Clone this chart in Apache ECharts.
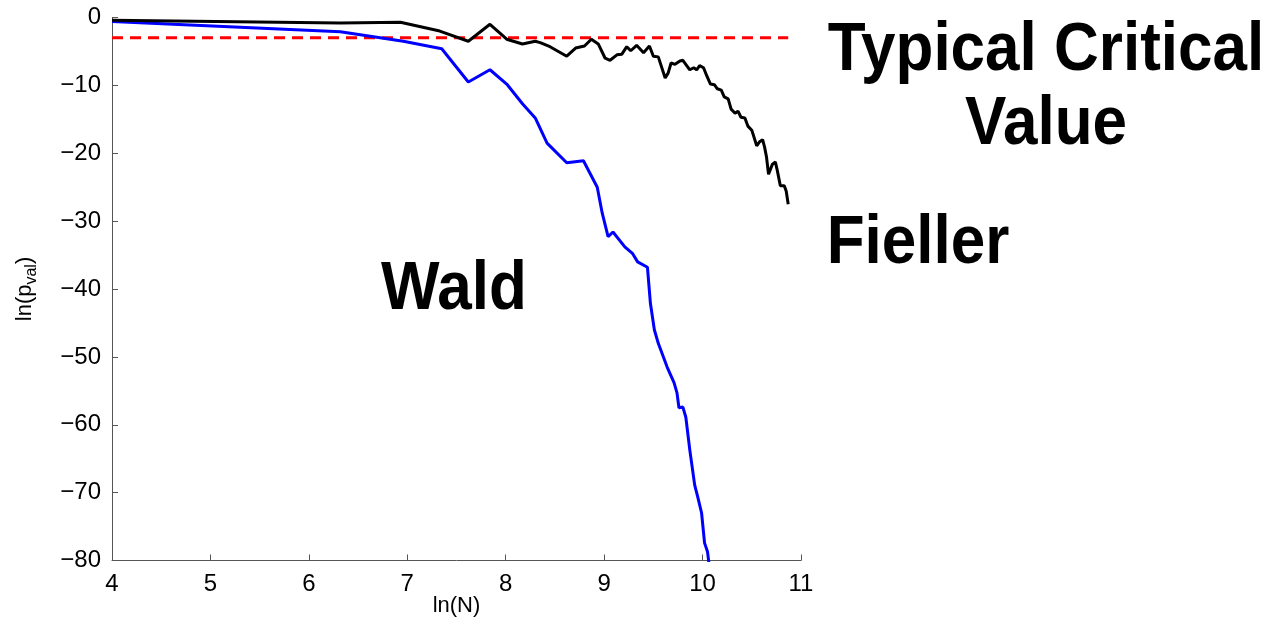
<!DOCTYPE html>
<html>
<head>
<meta charset="utf-8">
<script src="https://cdn.jsdelivr.net/npm/echarts@6/dist/echarts.min.js"></script>
<style>html,body{margin:0;padding:0;background:#fff}#c{width:1276px;height:624px}</style>
</head>
<body>
<div id="c"></div>
<script>
// ---- data ----
const xTicks = [4, 5, 6, 7, 8, 9, 10, 11];
const yTicks = [0, -10, -20, -30, -40, -50, -60, -70, -80];
const criticalValue = -3.0;
const criticalRange = [4, 10.87];

const fiellerX = [4, 6.32, 6.93, 7.33, 7.62, 7.84, 8.01, 8.17, 8.3, 8.35, 8.45, 8.62, 8.71, 8.8, 8.87, 8.94, 9.01, 9.06, 9.13, 9.18, 9.23, 9.27, 9.33, 9.4, 9.46, 9.5, 9.55, 9.62, 9.65, 9.68, 9.72, 9.77, 9.8, 9.87, 9.91, 9.94, 9.97, 10.01, 10.04, 10.08, 10.12, 10.15, 10.19, 10.22, 10.26, 10.29, 10.33, 10.36, 10.39, 10.43, 10.46, 10.5, 10.52, 10.55, 10.58, 10.61, 10.63, 10.65, 10.67, 10.71, 10.74, 10.76, 10.79, 10.83, 10.85, 10.87];
const fiellerY = [-0.4, -0.8, -0.7, -2.0, -3.5, -1.0, -3.2, -3.9, -3.5, -3.7, -4.3, -5.7, -4.5, -4.2, -3.2, -3.9, -6.0, -6.3, -5.5, -5.4, -4.3, -4.9, -4.1, -5.2, -4.2, -5.7, -5.8, -8.9, -8.2, -6.7, -6.9, -6.4, -6.3, -7.7, -7.4, -7.7, -7.1, -7.4, -8.5, -9.8, -9.9, -10.5, -10.7, -11.7, -12.0, -13.5, -14.1, -13.8, -14.7, -14.8, -16.0, -16.6, -16.7, -18.9, -18.3, -18.0, -19.1, -20.6, -23.1, -21.6, -21.3, -22.6, -24.8, -24.8, -25.6, -27.5];

const waldX = [4, 6.32, 6.96, 7.35, 7.62, 7.84, 8.01, 8.17, 8.3, 8.42, 8.62, 8.79, 8.84, 8.93, 8.98, 9.04, 9.09, 9.21, 9.29, 9.34, 9.44, 9.47, 9.51, 9.55, 9.64, 9.71, 9.74, 9.76, 9.8, 9.83, 9.87, 9.92, 9.95, 9.99, 10.02, 10.05, 10.07];
const waldY = [-0.6, -2.1, -3.5, -4.6, -9.5, -7.7, -9.8, -12.7, -14.8, -18.5, -21.4, -21.1, -22.5, -25.0, -28.8, -32.3, -31.6, -33.8, -34.8, -36.0, -36.8, -42.1, -46.0, -48.0, -51.5, -53.8, -55.3, -57.5, -57.4, -58.9, -63.7, -68.9, -70.6, -73.0, -77.4, -78.7, -81.0];

const annotations = [
  {text: 'Typical Critical', x: 1046, y: 51},
  {text: 'Value', x: 1046, y: 125},
  {text: 'Fieller', x: 918, y: 244},
  {text: 'Wald', x: 454, y: 290}
];

// ---- chart ----
const zip = (xs, ys) => xs.map((x, i) => [x, ys[i]]);
const FONT = '"Liberation Sans", Arial, Helvetica, sans-serif';
const axisColor = '#555';

const chart = echarts.init(document.getElementById('c'), null, {renderer: 'canvas'});
chart.setOption({
  animation: false,
  backgroundColor: '#fff',
  grid: {left: 112, right: 475, top: 17.5, bottom: 63.5, containLabel: false, outerBoundsMode: 'none'},
  xAxis: {
    type: 'value', min: xTicks[0], max: xTicks[xTicks.length - 1], interval: 1,
    name: 'ln(N)', nameLocation: 'middle', nameGap: 34, nameMoveOverlap: false,
    nameTextStyle: {fontFamily: FONT, fontSize: 22, color: '#000'},
    axisLine: {show: true, onZero: false, lineStyle: {color: axisColor, width: 1}},
    axisTick: {show: true, inside: true, length: 6, lineStyle: {color: axisColor}},
    axisLabel: {fontFamily: FONT, fontSize: 24, color: '#000', margin: 12},
    splitLine: {show: false}
  },
  yAxis: {
    type: 'value', min: yTicks[yTicks.length - 1], max: yTicks[0], interval: 10,
    name: '{a|ln(p}{b|val}{a|)}', nameLocation: 'middle', nameGap: 72, nameRotate: 90, nameMoveOverlap: false,
    nameTextStyle: {
      fontFamily: FONT, color: '#000',
      rich: {
        a: {fontFamily: FONT, fontSize: 22, color: '#000'},
        b: {fontFamily: FONT, fontSize: 16, color: '#000', padding: [14, 0, 0, 0]}
      }
    },
    axisLine: {show: true, onZero: false, lineStyle: {color: axisColor, width: 1}},
    axisTick: {show: true, inside: true, length: 6, lineStyle: {color: axisColor}},
    axisLabel: {fontFamily: FONT, fontSize: 24, color: '#000', margin: 11,
      formatter: v => String(v).replace('-', '\u2212')},
    splitLine: {show: false}
  },
  series: [
    {
      type: 'line', name: 'Critical', data: [[criticalRange[0], criticalValue], [criticalRange[1], criticalValue]],
      symbol: 'none', lineStyle: {color: '#ff0000', width: 3, type: [11, 7]}, z: 1
    },
    {
      type: 'line', name: 'Wald', data: zip(waldX, waldY), symbol: 'none', clip: true,
      lineStyle: {color: '#0000ff', width: 3}, z: 2
    },
    {
      type: 'line', name: 'Fieller', data: zip(fiellerX, fiellerY), symbol: 'none', clip: true,
      lineStyle: {color: '#000000', width: 3}, z: 3
    }
  ],
  graphic: annotations.map(a => ({
    type: 'text', x: a.x, y: a.y, scaleY: 1.12,
    style: {text: a.text, fontFamily: FONT, fontWeight: 'bold', fontSize: 62, fill: '#000',
      textAlign: 'center', textVerticalAlign: 'middle'}
  }))
});
</script>
</body>
</html>
